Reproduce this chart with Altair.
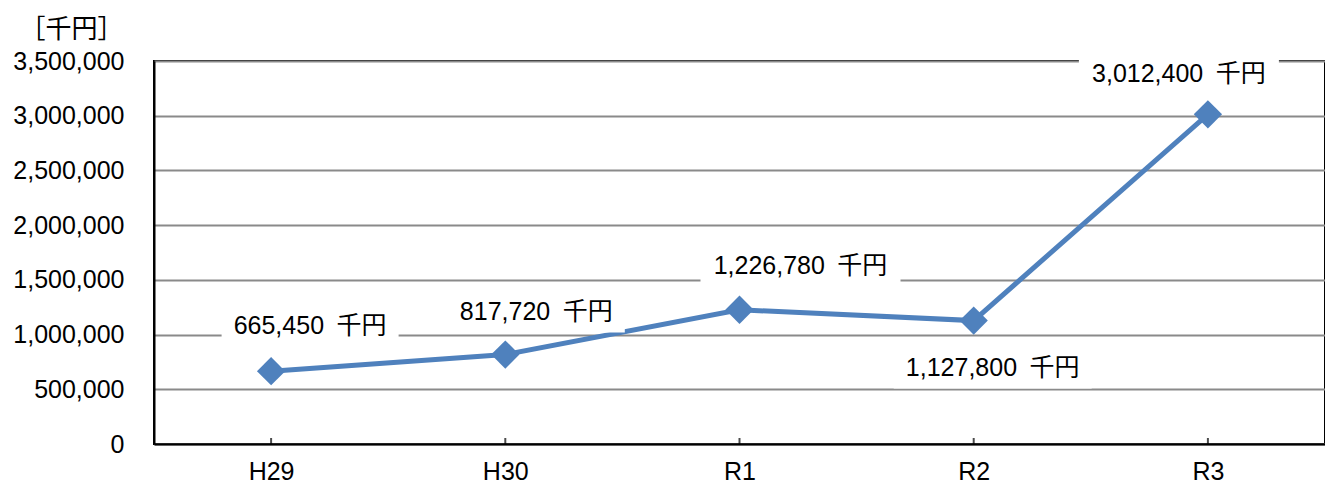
import altair as alt
import pandas as pd

# ---- data ----
years = ["H29", "H30", "R1", "R2", "R3"]
amounts = [665450, 817720, 1226780, 1127800, 3012400]
y_ticks = [0, 500000, 1000000, 1500000, 2000000, 2500000, 3000000, 3500000]
unit = "千円"
axis_title = "［千円］"

df = pd.DataFrame({"year": years, "value": amounts})

# ---- layout / style (not data) ----
W, H = 1171, 383
BLUE = "#4F81BD"
FONT = "Liberation Sans, Noto Sans CJK JP"
FS = 25
# pixel offsets of each data label from its point, and white box widths
label_offsets = {"H29": (39, -45), "H30": (31, -43), "R1": (61, -44), "R2": (19, 47), "R3": (-29, -40)}
box_widths = {"H29": 177, "H30": 177, "R1": 200, "R2": 198, "R3": 200}
BOX_H = 42

x_enc = alt.X("year:N", sort=years,
              scale=alt.Scale(type="point", padding=0.5),
              axis=alt.Axis(title=None, labelAngle=0, ticks=False, grid=False))
y_scale = alt.Scale(domain=[0, 3500000], nice=False, zero=True)
y_axis = alt.Axis(values=y_ticks, format=",d", ticks=False, grid=True,
                  title=axis_title)

base = alt.Chart(df).transform_calculate(
    label="format(datum.value, ',') + '\u2002" + unit + "'",
    zero="0",
)

y_enc = alt.Y("value:Q", scale=y_scale, axis=y_axis)

line = base.mark_line(color=BLUE, strokeWidth=5).encode(x=x_enc, y=y_enc)
points = base.mark_point(shape="diamond", filled=True, size=800, color=BLUE,
                         opacity=1).encode(x=x_enc, y=y_enc)
ticks = base.mark_tick(orient="vertical", size=12, thickness=2, color="black",
                       clip=True).encode(
    x=x_enc, y=alt.Y("zero:Q", scale=y_scale, axis=y_axis))

layers = [ticks, line, points]
for yr in years:
    dx, dy = label_offsets[yr]
    w = box_widths[yr]
    h = BOX_H / w
    sub = base.transform_filter(alt.datum.year == yr)
    box = sub.mark_point(
        shape=f"M-1,{-h:.4f}H1V{h:.4f}H-1Z", size=w * w, filled=True,
        fill="white", strokeWidth=0, opacity=1, xOffset=dx, yOffset=dy
    ).encode(x=x_enc, y=y_enc)
    txt = sub.mark_text(
        font=FONT, fontSize=FS, color="black", align="center",
        baseline="middle", dx=dx, dy=dy
    ).encode(x=x_enc, y=y_enc, text="label:N")
    layers += [box, txt]

chart = alt.layer(*layers).properties(
    width=W, height=H,
    autosize=alt.AutoSizeParams(type="none"),
    padding={"left": 146, "top": 53, "right": 0, "bottom": 40},
).configure(
    background="white"
).configure_view(
    stroke="black", strokeWidth=2
).configure_axis(
    domainColor="black", domainWidth=2,
    labelFont=FONT, labelFontSize=FS, labelColor="black",
    gridColor="#8a8a8a", gridWidth=2,
).configure_axisX(
    labelPadding=15,
).configure_axisY(
    labelPadding=30,
    titleAngle=0, titleAlign="center", titleBaseline="middle",
    titleX=-83, titleY=-32, titleFont="Noto Sans CJK JP", titleFontSize=26,
    titleFontWeight="normal", titleColor="black",
)

chart.save("out.html", embed_options={"renderer": "svg", "actions": False})
